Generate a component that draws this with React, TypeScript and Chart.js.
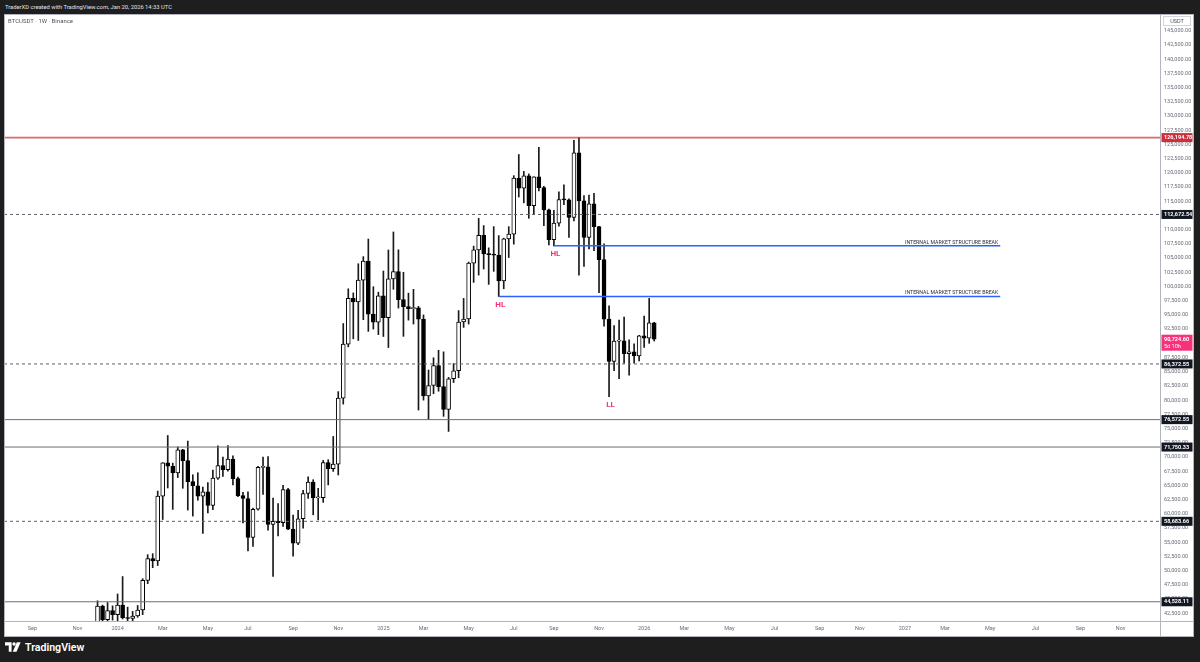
import React, { useEffect, useRef } from 'react';
import { Chart, registerables } from 'chart.js';

Chart.register(...registerables);

// ---------- DATA (weekly BTCUSDT, Binance) ----------
const weekDates = [
  '2023-12-04', '2023-12-11', '2023-12-18', '2023-12-25',
  '2024-01-01', '2024-01-08', '2024-01-15', '2024-01-22', '2024-01-29', '2024-02-05', '2024-02-12', '2024-02-19', '2024-02-26',
  '2024-03-04', '2024-03-11', '2024-03-18', '2024-03-25', '2024-04-01', '2024-04-08', '2024-04-15', '2024-04-22', '2024-04-29',
  '2024-05-06', '2024-05-13', '2024-05-20', '2024-05-27', '2024-06-03', '2024-06-10', '2024-06-17', '2024-06-24',
  '2024-07-01', '2024-07-08', '2024-07-15', '2024-07-22', '2024-07-29', '2024-08-05', '2024-08-12', '2024-08-19', '2024-08-26',
  '2024-09-02', '2024-09-09', '2024-09-16', '2024-09-23', '2024-09-30', '2024-10-07', '2024-10-14', '2024-10-21', '2024-10-28',
  '2024-11-04', '2024-11-11', '2024-11-18', '2024-11-25', '2024-12-02', '2024-12-09', '2024-12-16', '2024-12-23', '2024-12-30',
  '2025-01-06', '2025-01-13', '2025-01-20', '2025-01-27', '2025-02-03', '2025-02-10', '2025-02-17', '2025-02-24',
  '2025-03-03', '2025-03-10', '2025-03-17', '2025-03-24', '2025-03-31', '2025-04-07', '2025-04-14', '2025-04-21', '2025-04-28',
  '2025-05-05', '2025-05-12', '2025-05-19', '2025-05-26', '2025-06-02', '2025-06-09', '2025-06-16', '2025-06-23', '2025-06-30',
  '2025-07-07', '2025-07-14', '2025-07-21', '2025-07-28', '2025-08-04', '2025-08-11', '2025-08-18', '2025-08-25',
  '2025-09-01', '2025-09-08', '2025-09-15', '2025-09-22', '2025-09-29', '2025-10-06', '2025-10-13', '2025-10-20', '2025-10-27',
  '2025-11-03', '2025-11-10', '2025-11-17', '2025-11-24', '2025-12-01', '2025-12-08', '2025-12-15', '2025-12-22', '2025-12-29',
  '2026-01-05', '2026-01-12', '2026-01-19',
];

const opens = [
  39970, 43780, 41370, 42990,
  42280, 43930, 41730, 41580, 42030, 43080, 48300, 52140, 51730,
  63110, 68960, 68370, 67210, 71280, 69360, 65660, 64940, 63120,
  63880, 61480, 66270, 68500, 67750, 69650, 66200, 63200,
  62700, 55860, 60800, 68160, 68250, 58120, 58700, 58430, 64250,
  57300, 54840, 59130, 63580, 65600, 62820, 62850, 69030, 67930,
  68750, 80370, 89850, 97900, 97280, 101120, 104460, 95140, 93720,
  98360, 94500, 101330, 102600, 97700, 96460, 96100, 96250,
  94270, 80730, 82580, 86080, 82390, 78370, 83760, 85180, 93750,
  94280, 104120, 106450, 109000, 105740, 105600, 105520, 100960, 108370,
  109200, 119090, 117300, 119450, 114200, 119290, 117400, 113490,
  108240, 111140, 115270, 115230, 112140, 123500, 115070, 108650, 114560,
  110540, 104720, 94260, 86800, 90400, 90450, 88200, 88500, 87800,
  91300, 90900, 93600,
];

const highs = [
  44700, 43950, 44400, 43800,
  45900, 48970, 43580, 42840, 43880, 48590, 52820, 52990, 64000,
  69000, 73780, 68920, 71770, 71350, 72800, 66870, 67230, 64700,
  65500, 67700, 71980, 70000, 71990, 70200, 66480, 63770,
  63860, 61000, 68370, 70000, 70080, 62750, 61800, 65000, 64500,
  59800, 60630, 64130, 66500, 66000, 64480, 69400, 69520, 73620,
  81500, 93480, 99590, 98870, 104000, 105250, 108350, 99960, 99000,
  102720, 106420, 109590, 106450, 102500, 98830, 99500, 96500,
  95000, 85300, 87450, 88770, 88500, 84000, 86430, 95760, 97900,
  104300, 107100, 111980, 110720, 106800, 110530, 108950, 108500, 110530,
  119500, 123220, 120250, 119800, 119310, 124470, 117630, 113600,
  113380, 116660, 117900, 115400, 125700, 126190, 116000, 116100, 116400,
  110600, 107500, 96600, 93100, 94100, 94600, 90600, 89900, 91400,
  94800, 97900, 93700,
];

const lows = [
  39290, 40200, 40520, 41300,
  40750, 41500, 40280, 38550, 41800, 42260, 47720, 50520, 50900,
  59000, 64550, 60780, 66380, 64500, 60660, 59600, 62390, 56550,
  60180, 60750, 66060, 66600, 67500, 65080, 63000, 58400,
  53480, 54260, 60630, 63400, 57120, 49000, 56100, 57800, 57200,
  52550, 54580, 57490, 62700, 59830, 58950, 62020, 65090, 67470,
  66830, 79300, 89380, 90800, 90500, 94150, 92100, 92500, 91530,
  91200, 89260, 99500, 96200, 91230, 94080, 93390, 78260,
  80000, 76600, 81130, 81570, 77150, 74500, 83100, 83950, 92800,
  93380, 100720, 102000, 103070, 100370, 102660, 98250, 99600, 105100,
  107440, 115740, 114720, 112000, 112650, 116800, 110700, 107300,
  107150, 110620, 114380, 108650, 111550, 102000, 103530, 106600, 106300,
  98900, 93000, 80600, 85200, 83800, 86500, 84400, 86500, 86900,
  89300, 90000, 90400,
];

const closes = [
  43780, 41370, 42990, 42280,
  43930, 41730, 41580, 42030, 43080, 48300, 52140, 51730, 63110,
  68960, 68370, 67210, 71280, 69360, 65660, 64940, 63120, 63880,
  61480, 66270, 68500, 67750, 69650, 66200, 63200, 62700,
  55860, 60800, 68160, 68250, 58120, 58700, 58430, 64250, 57300,
  54840, 59130, 63580, 65600, 62820, 62850, 69030, 67930, 68750,
  80370, 89850, 97900, 97280, 101120, 104460, 95140, 93720, 98360,
  94500, 101330, 102600, 97700, 96460, 96100, 96250, 94270,
  80730, 82580, 86080, 82390, 78370, 83760, 85180, 93750, 94280,
  104120, 106450, 109000, 105740, 105600, 105520, 100960, 108370, 109200,
  119090, 117300, 119450, 114200, 119290, 117400, 113490, 108240,
  111140, 115270, 115230, 112140, 123500, 115070, 108650, 114560, 110540,
  104720, 94260, 86800, 90400, 90450, 88200, 88500, 87800, 91300,
  90900, 93600, 90724.6,
];

// time-scale labels sit on the first weekly bar of each labelled month
const xTickDates = [
  '2023-09-04', '2023-11-06', '2024-01-01', '2024-03-04', '2024-05-06', '2024-07-01', '2024-09-02', '2024-11-04',
  '2025-01-06', '2025-03-03', '2025-05-05', '2025-07-07', '2025-09-01', '2025-11-03',
  '2026-01-05', '2026-03-02', '2026-05-04', '2026-07-06', '2026-09-07', '2026-11-02',
  '2027-01-04', '2027-03-01', '2027-05-03', '2027-07-05', '2027-09-06', '2027-11-01',
];
const xTickLabels = [
  'Sep', 'Nov', '2024', 'Mar', 'May', 'Jul', 'Sep', 'Nov',
  '2025', 'Mar', 'May', 'Jul', 'Sep', 'Nov',
  '2026', 'Mar', 'May', 'Jul', 'Sep', 'Nov',
  '2027', 'Mar', 'May', 'Jul', 'Sep', 'Nov',
];

const yTickValues = [
  42500, 45000, 47500, 50000, 52500, 55000, 57500, 60000, 62500, 65000, 67500, 70000, 72500, 75000,
  77500, 80000, 82500, 85000, 87500, 90000, 92500, 95000, 97500, 100000, 102500, 105000, 107500,
  110000, 112500, 115000, 117500, 120000, 122500, 125000, 127500, 130000, 132500, 135000, 137500,
  140000, 142500, 145000,
];

const resistanceLevels = [126194.78];
const dashedLevels = [112672.54, 86372.55, 58683.66];
const solidLevels = [76572.55, 71750.33, 44528.11];

const mssStartDates = ['2025-06-16', '2025-09-01'];
const mssLevels = [98250, 107150];
const mssEndDate = '2027-05-17';
const mssText = 'INTERNAL MARKET STRUCTURE BREAK';

const swingLabels = ['HL', 'HL', 'LL'];
const swingDates = ['2025-06-16', '2025-09-01', '2025-11-17'];
const swingPrices = [98250, 107150, 80600];

const lastPrice = 90724.6;
const lastPriceCountdown = '5d 10h';

// ---------- LAYOUT / STYLE ----------
const EPOCH = Date.parse('2024-01-01T00:00:00Z');
const wk = (d: string) => (Date.parse(d + 'T00:00:00Z') - EPOCH) / 604800000;
const X_MIN = -22.65;
const X_MAX = 207.86;
const Y_MIN = 41145;
const Y_MAX = 147940;
const FONT = 'Roboto, "Liberation Sans", "DejaVu Sans", sans-serif';
const PINK = '#f7317a';
const fmt = (v: number) =>
  v.toLocaleString('en-US', { minimumFractionDigits: 2, maximumFractionDigits: 2 });

const overlayPlugin = {
  id: 'overlay',
  afterDatasetsDraw(chart: any) {
    const { ctx, scales } = chart;
    const xs = scales.x;
    const ys = scales.y;
    ctx.save();
    // structure-break captions
    ctx.font = `5.2px ${FONT}`;
    ctx.fillStyle = '#2a2e39';
    ctx.textAlign = 'right';
    ctx.textBaseline = 'bottom';
    const xEnd = xs.getPixelForValue(wk(mssEndDate));
    mssLevels.forEach((lv) => {
      ctx.fillText(mssText, xEnd - 2, ys.getPixelForValue(lv) - 1, 95);
    });
    // swing labels
    ctx.font = `bold 8px ${FONT}`;
    ctx.fillStyle = PINK;
    ctx.textAlign = 'center';
    ctx.textBaseline = 'top';
    swingLabels.forEach((t, i) => {
      ctx.fillText(t, xs.getPixelForValue(wk(swingDates[i])) + 1.5, ys.getPixelForValue(swingPrices[i]) + 4.5);
    });
    ctx.restore();
  },
  afterDraw(chart: any) {
    const { ctx, chartArea, scales, width, height } = chart;
    const ys = scales.y;
    ctx.save();
    // separators and frame
    ctx.strokeStyle = '#b2b5be';
    ctx.lineWidth = 1;
    ctx.beginPath();
    ctx.moveTo(0, Math.round(chartArea.bottom) + 0.5);
    ctx.lineTo(width, Math.round(chartArea.bottom) + 0.5);
    ctx.moveTo(Math.round(chartArea.right) + 0.5, 0);
    ctx.lineTo(Math.round(chartArea.right) + 0.5, height);
    ctx.stroke();
    ctx.strokeRect(0.5, 0.5, width - 1, height - 1);

    const axL = chartArea.right + 1.5;
    const axW = width - axL - 1.5;
    const box = (v: number, bg: string) => {
      const py = ys.getPixelForValue(v);
      ctx.fillStyle = bg;
      ctx.fillRect(axL, py - 4.5, axW, 9);
      ctx.fillStyle = '#ffffff';
      ctx.font = `bold 5.5px ${FONT}`;
      ctx.textAlign = 'left';
      ctx.textBaseline = 'middle';
      ctx.fillText(fmt(v), chartArea.right + 4, py + 0.3);
    };
    resistanceLevels.forEach((v) => box(v, '#cc2f3c'));
    dashedLevels.forEach((v) => box(v, '#131722'));
    solidLevels.forEach((v) => box(v, '#131722'));

    // last price label
    const lp = ys.getPixelForValue(lastPrice);
    ctx.fillStyle = PINK;
    ctx.fillRect(axL, lp - 4.5, axW, 16);
    ctx.fillStyle = '#ffffff';
    ctx.font = `bold 5.5px ${FONT}`;
    ctx.textAlign = 'left';
    ctx.textBaseline = 'middle';
    ctx.fillText(fmt(lastPrice), chartArea.right + 4, lp + 0.3);
    ctx.font = `5.5px ${FONT}`;
    ctx.fillText(lastPriceCountdown, chartArea.right + 4, lp + 7);

    // currency box
    ctx.fillStyle = '#ffffff';
    ctx.fillRect(chartArea.right + 3, 2, axW - 3, 10);
    ctx.strokeStyle = '#d1d4dc';
    ctx.strokeRect(chartArea.right + 3.5, 2.5, axW - 4, 9);
    ctx.fillStyle = '#50535e';
    ctx.font = `5.5px ${FONT}`;
    ctx.textAlign = 'center';
    ctx.fillText('USDT', chartArea.right + 3 + (axW - 3) / 2, 7.3);
    ctx.restore();
  },
};

export default function App() {
  const ref = useRef<HTMLCanvasElement | null>(null);

  useEffect(() => {
    if (!ref.current) return;
    const bodyData = weekDates.map((d, i) => ({ x: wk(d), y: [opens[i], closes[i]] }));
    const wickData = weekDates.map((d, i) => ({ x: wk(d), y: [lows[i], highs[i]] }));
    const bodyColors = closes.map((c, i) => (c >= opens[i] ? '#ffffff' : '#000000'));

    const hLine = (lv: number, color: string, w: number, dash: number[]) => ({
      type: 'line',
      data: [{ x: X_MIN, y: lv }, { x: X_MAX, y: lv }],
      borderColor: color,
      borderWidth: w,
      borderDash: dash,
      pointRadius: 0,
      fill: false,
      clip: 0,
    });
    const mssLines = mssLevels.map((lv, i) => ({
      type: 'line',
      data: [{ x: wk(mssStartDates[i]), y: lv }, { x: wk(mssEndDate), y: lv }],
      borderColor: '#2962ff',
      borderWidth: 1.5,
      pointRadius: 0,
      fill: false,
      clip: 0,
    }));

    const datasets: any[] = [
      ...resistanceLevels.map((v) => hLine(v, 'rgba(214,55,65,0.75)', 1.6, [])),
      ...dashedLevels.map((v) => hLine(v, '#5d606b', 1, [3, 3])),
      ...solidLevels.map((v) => hLine(v, '#6a6d78', 1, [])),
      ...mssLines,
      {
        type: 'bar',
        data: bodyData,
        backgroundColor: bodyColors,
        borderColor: '#000000',
        borderWidth: 1,
        borderSkipped: false,
        barThickness: 4,
        minBarLength: 1,
        grouped: false,
        clip: 0,
      },
      {
        type: 'bar',
        data: wickData,
        backgroundColor: '#1a1a1a',
        borderWidth: 0,
        barThickness: 1,
        grouped: false,
        clip: 0,
      },
    ];

    const tickFont = { family: FONT, size: 5.5 };
    const chart = new Chart(ref.current, {
      type: 'bar',
      data: { datasets },
      options: {
        responsive: false,
        animation: false,
        events: [],
        layout: { padding: 0 },
        plugins: { legend: { display: false }, tooltip: { enabled: false } },
        scales: {
          x: {
            type: 'linear',
            min: X_MIN,
            max: X_MAX,
            offset: false,
            grid: { display: false, drawTicks: false, offset: false },
            border: { display: false },
            afterBuildTicks: (s: any) => {
              s.ticks = xTickDates.map((d) => ({ value: wk(d) }));
            },
            afterFit: (s: any) => {
              s.height = 16;
              s.paddingLeft = 0;
              s.paddingRight = 0;
            },
            ticks: {
              autoSkip: false,
              maxRotation: 0,
              padding: 4.5,
              color: '#6a6d78',
              font: tickFont,
              callback: (_v: any, i: number) => xTickLabels[i],
            },
          },
          y: {
            type: 'linear',
            position: 'right',
            min: Y_MIN,
            max: Y_MAX,
            grid: { display: false, drawTicks: false },
            border: { display: false },
            afterBuildTicks: (s: any) => {
              s.ticks = yTickValues.map((v) => ({ value: v }));
            },
            afterFit: (s: any) => {
              s.width = 34;
              s.paddingTop = 0;
              s.paddingBottom = 0;
            },
            ticks: {
              autoSkip: false,
              padding: 4,
              color: '#6a6d78',
              font: tickFont,
              callback: (v: any) => fmt(Number(v)),
            },
          },
        },
      } as any,
      plugins: [overlayPlugin],
    } as any);
    return () => chart.destroy();
  }, []);

  return (
    <div
      style={{
        position: 'absolute',
        left: 0,
        top: 0,
        width: 1200,
        height: 662,
        background: '#1e1e1e',
        overflow: 'hidden',
        fontFamily: FONT,
      }}
    >
      <div
        style={{
          position: 'absolute',
          left: 5,
          top: 3,
          fontSize: 5.8,
          lineHeight: '8px',
          color: '#e0e3eb',
          whiteSpace: 'nowrap',
        }}
      >
        TraderXD created with TradingView.com, Jan 20, 2026 14:33 UTC
      </div>
      <canvas
        ref={ref}
        width={1190}
        height={623}
        style={{ position: 'absolute', left: 4, top: 14, width: 1190, height: 623, background: '#ffffff' }}
      />
      <div
        style={{
          position: 'absolute',
          left: 8,
          top: 17,
          fontSize: 6,
          lineHeight: '8px',
          color: '#50535e',
          whiteSpace: 'nowrap',
        }}
      >
        BTCUSDT · 1W · Binance
      </div>
      <svg
        style={{ position: 'absolute', left: 5, top: 642 }}
        width={16}
        height={10}
        viewBox="0 0 17 10"
      >
        <path d="M0 0 H7 V10 H4 V3.5 H0 Z" fill="#ffffff" />
        <circle cx="9.6" cy="1.8" r="1.8" fill="#ffffff" />
        <path d="M12.6 0 H16.6 L12.2 10 H8.2 Z" fill="#ffffff" />
      </svg>
      <div
        style={{
          position: 'absolute',
          left: 25,
          top: 639.5,
          fontSize: 10.6,
          lineHeight: '15px',
          fontWeight: 600,
          color: '#ffffff',
          whiteSpace: 'nowrap',
        }}
      >
        TradingView
      </div>
    </div>
  );
}
